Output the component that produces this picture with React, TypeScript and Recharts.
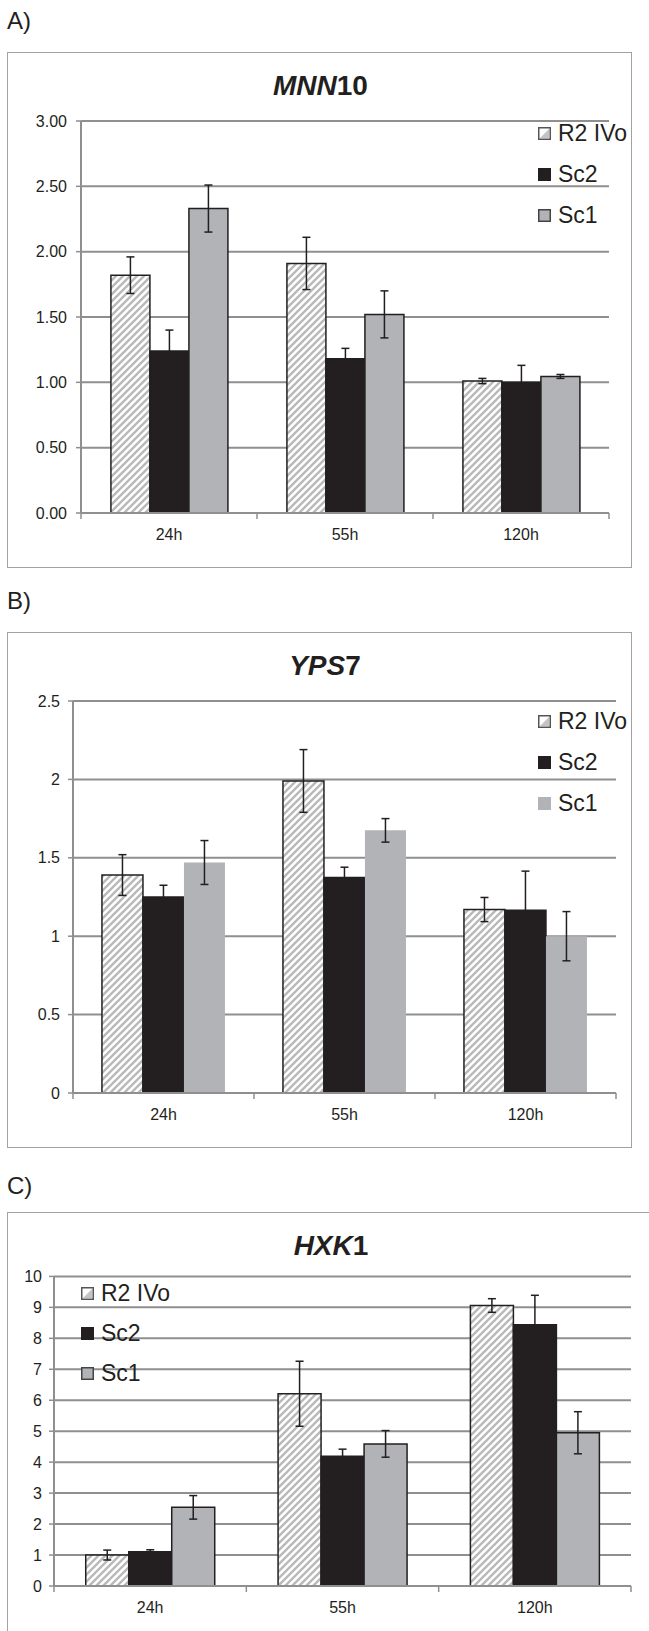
import React from "react"
import { Bar, BarChart, CartesianGrid, ErrorBar, Legend, XAxis, YAxis } from "recharts"

const timepoints = ["24h", "55h", "120h"]
const seriesNames = ["R2 IVo", "Sc2", "Sc1"]

// A) MNN10
const mnnR2 = [1.82, 1.91, 1.01]
const mnnR2Err = [0.14, 0.2, 0.02]
const mnnSc2 = [1.24, 1.18, 1.0]
const mnnSc2Err = [0.16, 0.08, 0.13]
const mnnSc1 = [2.33, 1.52, 1.045]
const mnnSc1Err = [0.18, 0.18, 0.015]
const mnnTicks = [0, 0.5, 1, 1.5, 2, 2.5, 3]

// B) YPS7
const ypsR2 = [1.39, 1.99, 1.17]
const ypsR2Err = [0.13, 0.2, 0.077]
const ypsSc2 = [1.25, 1.375, 1.165]
const ypsSc2Err = [0.075, 0.065, 0.25]
const ypsSc1 = [1.47, 1.675, 1.0]
const ypsSc1Err = [0.14, 0.075, 0.157]
const ypsTicks = [0, 0.5, 1, 1.5, 2, 2.5]

// C) HXK1
const hxkR2 = [1.0, 6.21, 9.06]
const hxkR2Err = [0.16, 1.05, 0.22]
const hxkSc2 = [1.11, 4.19, 8.44]
const hxkSc2Err = [0.06, 0.23, 0.95]
const hxkSc1 = [2.54, 4.59, 4.95]
const hxkSc1Err = [0.38, 0.43, 0.68]
const hxkTicks = [0, 1, 2, 3, 4, 5, 6, 7, 8, 9, 10]

const FONT = '"Liberation Sans", Arial, Helvetica, sans-serif'
const INK = "#231f20"
const GRID = "#8f8f8f"
const SC1 = "#b1b3b6"
const HATCH = "#b9b9b9"

const rows = (r2: number[], r2e: number[], s2: number[], s2e: number[], s1: number[], s1e: number[]) =>
  timepoints.map((t, i) => ({
    name: t,
    r2: r2[i],
    r2Err: r2e[i],
    sc2: s2[i],
    sc2Err: s2e[i],
    sc1: s1[i],
    sc1Err: s1e[i],
  }))

const CategoryTick = (props: any) => {
  const { x, y, payload, index } = props
  const half = payload?.offset || props.width / (props.visibleTicksCount || 3) / 2
  const axisY = y - 16
  return (
    <g>
      <line x1={x - half} x2={x - half} y1={axisY} y2={axisY + 6} stroke={GRID} strokeWidth={1.5} />
      {index === timepoints.length - 1 && (
        <line x1={x + half} x2={x + half} y1={axisY} y2={axisY + 6} stroke={GRID} strokeWidth={1.5} />
      )}
      <text x={x} y={y} dy="0.71em" textAnchor="middle" fill={INK} fontSize={16} fontFamily={FONT}>
        {payload.value}
      </text>
    </g>
  )
}

const LegendIcon = ({ i, sc1Border }: { i: number; sc1Border: boolean }) => {
  if (i === 0)
    return (
      <svg width={13} height={13} style={{ marginRight: 7 }}>
        <rect x={0.75} y={0.75} width={11.5} height={11.5} fill="#fff" stroke="#555" strokeWidth={1.5} />
        <polygon points="2,11 11,2 11,11" fill="#c4c4c4" />
      </svg>
    )
  if (i === 1)
    return (
      <svg width={13} height={13} style={{ marginRight: 7 }}>
        <rect x={0} y={0} width={13} height={13} fill={INK} />
      </svg>
    )
  return (
    <svg width={13} height={13} style={{ marginRight: 7 }}>
      <rect
        x={0.75}
        y={0.75}
        width={11.5}
        height={11.5}
        fill={SC1}
        stroke={sc1Border ? "#444" : SC1}
        strokeWidth={1.5}
      />
    </svg>
  )
}

type PanelProps = {
  label: string
  gene: string
  suffix: string
  data: any[]
  ticks: number[]
  fmt: (v: number) => string
  top: number
  height: number
  plotTop: number
  right: number
  yWidth: number
  xHeight: number
  yMargin: number
  gap: string
  legendLeft: number
  legendTop: number
  rowH: number
  sc1Border: boolean
  boxTop: number
  boxWidth: number
  boxHeight: number
  labelTop: number
  titleTop: number
  titleWidth: number
}

const Panel = (p: PanelProps) => {
  const sc1Stroke = p.sc1Border ? INK : "none"
  return (
    <>
      <div
        style={{
          position: "absolute",
          left: 0,
          top: p.labelTop,
          fontFamily: FONT,
          fontSize: 24,
          lineHeight: "24px",
          color: INK,
          paddingLeft: 7,
        }}
      >
        {p.label}
      </div>
      <div
        style={{
          position: "absolute",
          left: 7,
          top: p.boxTop,
          width: p.boxWidth,
          height: p.boxHeight,
          border: "1.5px solid #a2a2a2",
          boxSizing: "border-box",
        }}
      />
      <div
        style={{
          position: "absolute",
          left: 8,
          width: p.titleWidth,
          top: p.titleTop,
          textAlign: "center",
          fontFamily: FONT,
          fontWeight: "bold",
          fontSize: 28,
          lineHeight: "28px",
          color: INK,
        }}
      >
        <i>{p.gene}</i>
        {p.suffix}
      </div>
      <div style={{ position: "absolute", left: 0, top: p.top }}>
        <BarChart
          width={649}
          height={p.height}
          data={p.data}
          margin={{ top: p.plotTop, right: p.right, left: 0, bottom: 0 }}
          barGap={0}
          barCategoryGap={p.gap}
        >
          <CartesianGrid vertical={false} stroke={GRID} strokeWidth={2} />
          <XAxis
            dataKey="name"
            height={p.xHeight}
            interval={0}
            tickLine={false}
            tickSize={6}
            tickMargin={10}
            axisLine={{ stroke: GRID, strokeWidth: 2 }}
            tick={<CategoryTick />}
          />
          <YAxis
            type="number"
            domain={[0, p.ticks[p.ticks.length - 1]]}
            ticks={p.ticks}
            interval={0}
            width={p.yWidth}
            tickFormatter={p.fmt}
            tickSize={5}
            tickMargin={p.yMargin}
            axisLine={{ stroke: GRID, strokeWidth: 2 }}
            tickLine={{ stroke: GRID, strokeWidth: 1.5 }}
            tick={{ fill: INK, fontSize: 16, fontFamily: FONT }}
          />
          <Legend
            layout="vertical"
            align="center"
            verticalAlign="middle"
            wrapperStyle={{ left: p.legendLeft, top: p.legendTop, width: 112 }}
            content={() => (
              <div style={{ fontFamily: FONT, fontSize: 23, color: INK }}>
                {seriesNames.map((n, i) => (
                  <div key={n} style={{ height: p.rowH, display: "flex", alignItems: "center" }}>
                    <LegendIcon i={i} sc1Border={p.sc1Border} />
                    <span style={{ lineHeight: "23px" }}>{n}</span>
                  </div>
                ))}
              </div>
            )}
          />
          <Bar dataKey="r2" name="R2 IVo" fill="url(#hatch)" stroke={INK} strokeWidth={1.5} isAnimationActive={false}>
            <ErrorBar dataKey="r2Err" width={4} stroke={INK} strokeWidth={1.5} isAnimationActive={false} />
          </Bar>
          <Bar dataKey="sc2" name="Sc2" fill={INK} stroke={INK} strokeWidth={1.5} isAnimationActive={false}>
            <ErrorBar dataKey="sc2Err" width={4} stroke={INK} strokeWidth={1.5} isAnimationActive={false} />
          </Bar>
          <Bar dataKey="sc1" name="Sc1" fill={SC1} stroke={sc1Stroke} strokeWidth={1.5} isAnimationActive={false}>
            <ErrorBar dataKey="sc1Err" width={4} stroke={INK} strokeWidth={1.5} isAnimationActive={false} />
          </Bar>
        </BarChart>
      </div>
    </>
  )
}

export default function App() {
  return (
    <div
      style={{
        position: "absolute",
        left: 0,
        top: 0,
        width: 649,
        height: 1631,
        overflow: "hidden",
        background: "#fff",
      }}
    >
      <svg width={0} height={0} style={{ position: "absolute" }}>
        <defs>
          <pattern id="hatch" patternUnits="userSpaceOnUse" width={7} height={7}>
            <rect width={7} height={7} fill="#fff" />
            <path d="M-1,1 l2,-2 M0,7 l7,-7 M6,8 l2,-2" stroke={HATCH} strokeWidth={2.4} />
          </pattern>
        </defs>
      </svg>
      <Panel
        label="A)"
        gene="MNN"
        suffix="10"
        data={rows(mnnR2, mnnR2Err, mnnSc2, mnnSc2Err, mnnSc1, mnnSc1Err)}
        ticks={mnnTicks}
        fmt={(v) => v.toFixed(2)}
        top={0}
        height={568}
        plotTop={121}
        right={40}
        yWidth={81}
        xHeight={55}
        yMargin={9}
        gap="17%"
        legendLeft={538}
        legendTop={113}
        rowH={41}
        sc1Border={true}
        boxTop={52}
        boxWidth={625}
        boxHeight={516}
        labelTop={9}
        titleTop={72}
        titleWidth={625}
      />
      <Panel
        label="B)"
        gene="YPS"
        suffix="7"
        data={rows(ypsR2, ypsR2Err, ypsSc2, ypsSc2Err, ypsSc1, ypsSc1Err)}
        ticks={ypsTicks}
        fmt={(v) => String(v)}
        top={580}
        height={568}
        plotTop={121}
        right={33}
        yWidth={73}
        xHeight={55}
        yMargin={8}
        gap="16%"
        legendLeft={538}
        legendTop={121}
        rowH={41}
        sc1Border={false}
        boxTop={632}
        boxWidth={625}
        boxHeight={516}
        labelTop={589}
        titleTop={652}
        titleWidth={634}
      />
      <Panel
        label="C)"
        gene="HXK"
        suffix="1"
        data={rows(hxkR2, hxkR2Err, hxkSc2, hxkSc2Err, hxkSc1, hxkSc1Err)}
        ticks={hxkTicks}
        fmt={(v) => String(v)}
        top={1150}
        height={481}
        plotTop={126.4}
        right={18}
        yWidth={54}
        xHeight={45}
        yMargin={7}
        gap="16.5%"
        legendLeft={81}
        legendTop={123}
        rowH={40}
        sc1Border={true}
        boxTop={1212}
        boxWidth={660}
        boxHeight={520}
        labelTop={1174}
        titleTop={1232}
        titleWidth={646}
      />
    </div>
  )
}
